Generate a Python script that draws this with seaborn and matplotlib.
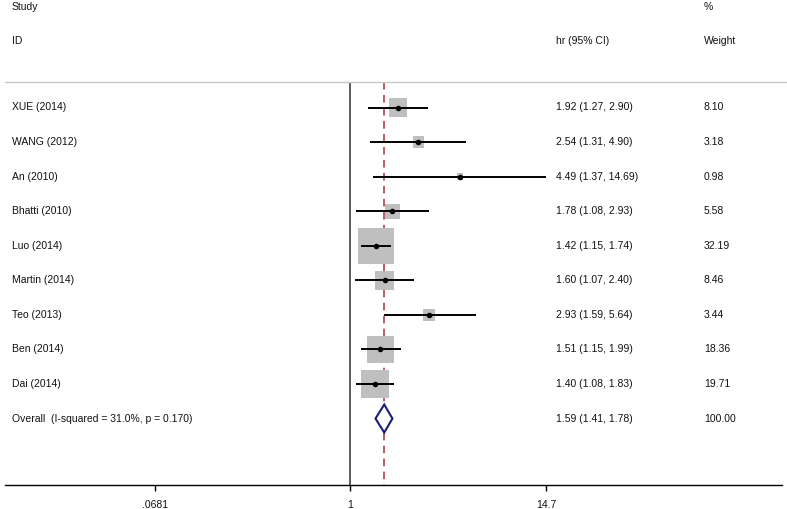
import numpy as np
import pandas as pd
import matplotlib
matplotlib.use("Agg")
import matplotlib.pyplot as plt
import matplotlib.transforms as mtransforms
from matplotlib.patches import Polygon
from matplotlib.ticker import FixedLocator, NullLocator, FixedFormatter
import seaborn as sns

# ---------------- data ----------------
studies = ["XUE (2014)", "WANG (2012)", "An (2010)", "Bhatti (2010)", "Luo (2014)",
           "Martin (2014)", "Teo (2013)", "Ben (2014)", "Dai (2014)"]
hr = [1.92, 2.54, 4.49, 1.78, 1.42, 1.60, 2.93, 1.51, 1.40]
ci_lo = [1.27, 1.31, 1.37, 1.08, 1.15, 1.07, 1.59, 1.15, 1.08]
ci_hi = [2.90, 4.90, 14.69, 2.93, 1.74, 2.40, 5.64, 1.99, 1.83]
weights = [8.10, 3.18, 0.98, 5.58, 32.19, 8.46, 3.44, 18.36, 19.71]
hr_text = ["1.92 (1.27, 2.90)", "2.54 (1.31, 4.90)", "4.49 (1.37, 14.69)",
           "1.78 (1.08, 2.93)", "1.42 (1.15, 1.74)", "1.60 (1.07, 2.40)",
           "2.93 (1.59, 5.64)", "1.51 (1.15, 1.99)", "1.40 (1.08, 1.83)"]
weight_text = ["8.10", "3.18", "0.98", "5.58", "32.19", "8.46", "3.44", "18.36", "19.71"]

overall_label = "Overall  (I-squared = 31.0%, p = 0.170)"
overall_hr, overall_lo, overall_hi = 1.59, 1.41, 1.78
overall_text = "1.59 (1.41, 1.78)"
overall_weight = "100.00"

tick_values = [0.0681, 1, 14.7]
tick_labels = [".0681", "1", "14.7"]

df = pd.DataFrame({"study": studies, "hr": hr, "lo": ci_lo, "hi": ci_hi,
                   "weight": weights, "row": np.arange(len(studies))})
overall_row = len(studies)

# ---------------- layout ----------------
W, H = 787, 509
sns.set_theme(style="white")
plt.rcParams["font.family"] = ["Liberation Sans", "DejaVu Sans"]
plt.rcParams["text.color"] = "black"
fs = 7.5
tc = "#111111"

fig = plt.figure(figsize=(W / 100, H / 100), dpi=100)
ax_left_px, ax_right_px, ax_bottom_px = 5, 782, 485
ax = fig.add_axes([ax_left_px / W, (H - ax_bottom_px) / H,
                   (ax_right_px - ax_left_px) / W, ax_bottom_px / H])

k = 195.5 / np.log(14.7)      # pixels per ln-unit
x_one_px = 350.5
row0_px, row_step = 107.5, 34.56
ax.set_xscale("log")
ax.set_xlim(np.exp((ax_left_px - x_one_px) / k), np.exp((ax_right_px - x_one_px) / k))
ax.set_ylim((ax_bottom_px - row0_px) / row_step, -row0_px / row_step)

sep_row = (82 - row0_px) / row_step
y_bottom = (ax_bottom_px - row0_px) / row_step

# reference lines
ax.vlines(1, sep_row, y_bottom, color="#333333", lw=1.1, zorder=1)
ax.vlines(overall_hr, sep_row, y_bottom, color="#a8323a", lw=1.1,
          linestyles=(0, (5, 3.5)), zorder=1)

# weight boxes
sns.scatterplot(data=df, x="hr", y="row", size="weight", sizes=(0, 2085),
                size_norm=(0, 100), marker="s", color="#bfbfbf", linewidth=0,
                legend=False, ax=ax, zorder=2)
# CI lines
ax.hlines(df["row"], df["lo"], df["hi"], color="black", lw=1.4, zorder=3)
# point estimates
sns.scatterplot(data=df, x="hr", y="row", s=16, color="black", linewidth=0,
                legend=False, ax=ax, zorder=4)

# overall diamond
h = 14 / row_step
diamond = Polygon([(overall_lo, overall_row), (overall_hr, overall_row - h),
                   (overall_hi, overall_row), (overall_hr, overall_row + h)],
                  closed=True, facecolor="white", edgecolor="#1c1c78", lw=1.5, zorder=5)
ax.add_patch(diamond)

# axis styling
for s in ["top", "left", "right"]:
    ax.spines[s].set_visible(False)
ax.spines["bottom"].set_color("black")
ax.spines["bottom"].set_linewidth(1.0)
ax.xaxis.set_major_locator(FixedLocator(tick_values))
ax.xaxis.set_major_formatter(FixedFormatter(tick_labels))
ax.xaxis.set_minor_locator(NullLocator())
ax.tick_params(axis="x", which="major", direction="out", length=4.5, width=1.0,
               pad=6, labelsize=fs, colors="black", labelcolor=tc, bottom=True)
ax.set_yticks([])
ax.set_xlabel("")
ax.set_ylabel("")

# text columns
trans = mtransforms.blended_transform_factory(fig.transFigure, ax.transData)
x_study, x_hr, x_w = 12 / W, 556 / W, 704 / W
hdr1 = (7 - row0_px) / row_step
hdr2 = (41 - row0_px) / row_step
kw = dict(transform=trans, fontsize=fs, va="center", ha="left", color=tc)
ax.text(x_study, hdr1, "Study", **kw)
ax.text(x_study, hdr2, "ID", **kw)
ax.text(x_hr, hdr2, "hr (95% CI)", **kw)
ax.text(x_w, hdr1, "%", **kw)
ax.text(x_w, hdr2, "Weight", **kw)

for i, (s, t, w) in enumerate(zip(studies, hr_text, weight_text)):
    ax.text(x_study, i, s, **kw)
    ax.text(x_hr, i, t, **kw)
    ax.text(x_w, i, w, **kw)
ax.text(x_study, overall_row, overall_label, **kw)
ax.text(x_hr, overall_row, overall_text, **kw)
ax.text(x_w, overall_row, overall_weight, **kw)

# separator line
fig.add_artist(plt.Line2D([5 / W, 1.0], [1 - 82 / H, 1 - 82 / H], color="#c8c8c8", lw=1.0,
                          transform=fig.transFigure))

fig.savefig("out.png", dpi=100)
